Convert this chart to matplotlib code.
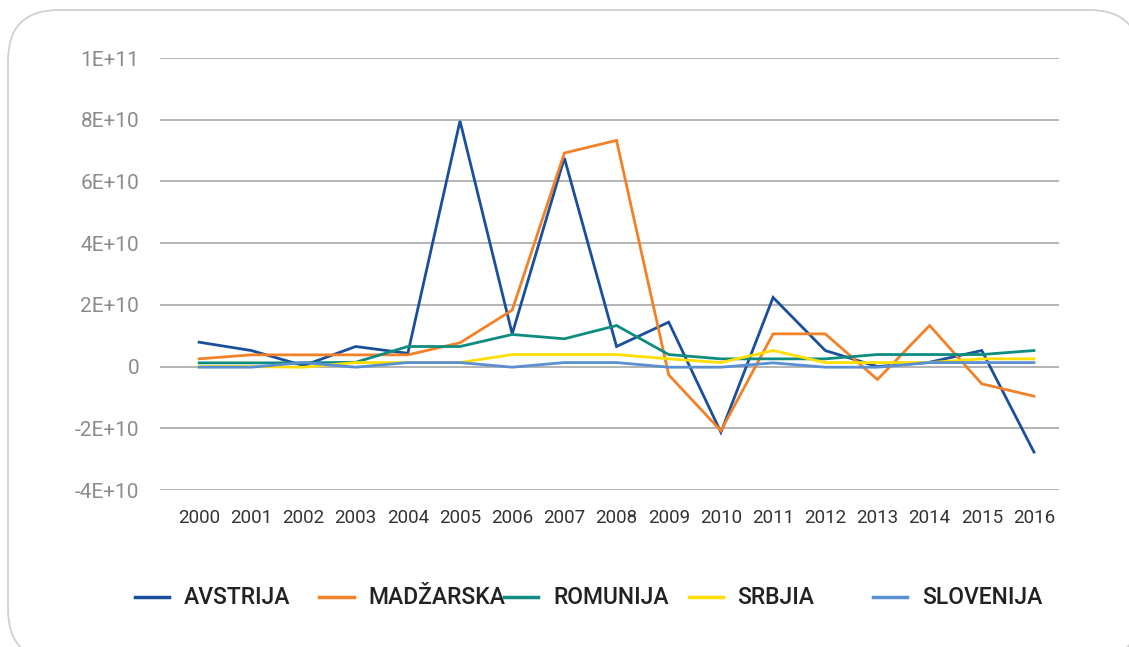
import matplotlib
matplotlib.use("Agg")
import matplotlib.pyplot as plt
from matplotlib.patches import FancyBboxPatch
from matplotlib.lines import Line2D
from matplotlib import font_manager

years = ["2000", "2001", "2002", "2003", "2004", "2005", "2006", "2007", "2008",
         "2009", "2010", "2011", "2012", "2013", "2014", "2015", "2016"]

avstrija = [7.9e9, 5.2e9, 0.3e9, 6.5e9, 4.3e9, 79.6e9, 10.6e9, 67.6e9, 6.5e9,
            14.4e9, -21.3e9, 22.4e9, 5.2e9, 0.0, 1.4e9, 5.2e9, -27.7e9]
madzarska = [2.5e9, 3.8e9, 3.8e9, 3.8e9, 3.8e9, 7.7e9, 18.3e9, 69.2e9, 73.3e9,
             -2.7e9, -20.8e9, 10.6e9, 10.6e9, -4.2e9, 13.3e9, -5.6e9, -9.6e9]
romunija = [1.2e9, 1.2e9, 1.2e9, 1.4e9, 6.5e9, 6.5e9, 10.4e9, 9.0e9, 13.3e9,
            3.9e9, 2.5e9, 2.5e9, 2.5e9, 3.9e9, 3.9e9, 3.9e9, 5.2e9]
srbjia = [0.0, 0.0, -0.2e9, 1.3e9, 1.3e9, 1.3e9, 3.9e9, 3.9e9, 3.9e9,
          2.5e9, 1.3e9, 5.2e9, 1.3e9, 1.3e9, 1.3e9, 2.5e9, 2.5e9]
slovenija = [-0.2e9, -0.2e9, 1.3e9, -0.2e9, 1.3e9, 1.3e9, -0.2e9, 1.3e9, 1.3e9,
             -0.2e9, -0.2e9, 1.2e9, -0.2e9, -0.2e9, 1.3e9, 1.3e9, 1.3e9]

series_names = ["AVSTRIJA", "MADŽARSKA", "ROMUNIJA", "SRBJIA", "SLOVENIJA"]
series_values = [avstrija, madzarska, romunija, srbjia, slovenija]
colors = ["#1a4f9c", "#f28127", "#0f8c80", "#ffde00", "#5a8fd2"]

yticks = [-4e10, -2e10, 0, 2e10, 4e10, 6e10, 8e10, 1e11]
ytick_labels = ["-4E+10", "-2E+10", "0", "2E+10", "4E+10", "6E+10", "8E+10", "1E+11"]

avail = {f.name for f in font_manager.fontManager.ttflist}
fam = [f for f in ["Roboto", "DejaVu Sans"] if f in avail]
plt.rcParams['font.family'] = fam

W, H = 1129, 647
fig = plt.figure(figsize=(W / 100, H / 100), dpi=100)

# rounded frame
frame = FancyBboxPatch((8 / W, (H - 660) / H), (1140 - 8) / W, (660 - 10) / H,
                       boxstyle="round,pad=0,rounding_size=0.045",
                       transform=fig.transFigure, facecolor="white",
                       edgecolor="#d0d0d0", linewidth=1.3, clip_on=False,
                       mutation_aspect=W / H, zorder=-5)
fig.patches.append(frame)

ax = fig.add_axes([160 / W, (H - 490) / H, (1059 - 160) / W, (490 - 58) / H])
ax.set_zorder(2)
ax.set_facecolor("none")
x = list(range(len(years)))
for vals, c in zip(series_values, colors):
    ax.plot(x, vals, color=c, linewidth=2.0, solid_joinstyle="miter")

ax.set_ylim(-4e10, 1e11)
ax.set_xlim(-0.75, 16.48)
ax.set_yticks(yticks)
ax.set_yticklabels(ytick_labels)
ax.set_xticks(x)
ax.set_xticklabels(years)
ax.grid(axis="y", color="#a8a8a8", linewidth=1.2)
ax.set_axisbelow(True)
for s in ax.spines.values():
    s.set_visible(False)
ax.tick_params(axis="both", length=0)
ax.tick_params(axis="y", labelsize=15, labelcolor="#8c8c8c", pad=15)
ax.tick_params(axis="x", labelsize=13.5, labelcolor="#333333", pad=14)

# legend
ly = (H - 597) / H
for i, (name, c) in enumerate(zip(series_names, colors)):
    x0 = 135 + i * 184.5
    fig.add_artist(Line2D([x0 / W, (x0 + 34) / W], [ly, ly], color=c,
                          linewidth=2.5, transform=fig.transFigure))
    fig.text((x0 + 49) / W, ly, name, fontsize=16.5, color="#222222",
             va="center", ha="left", fontweight="medium")

fig.savefig("out.png", dpi=100)
